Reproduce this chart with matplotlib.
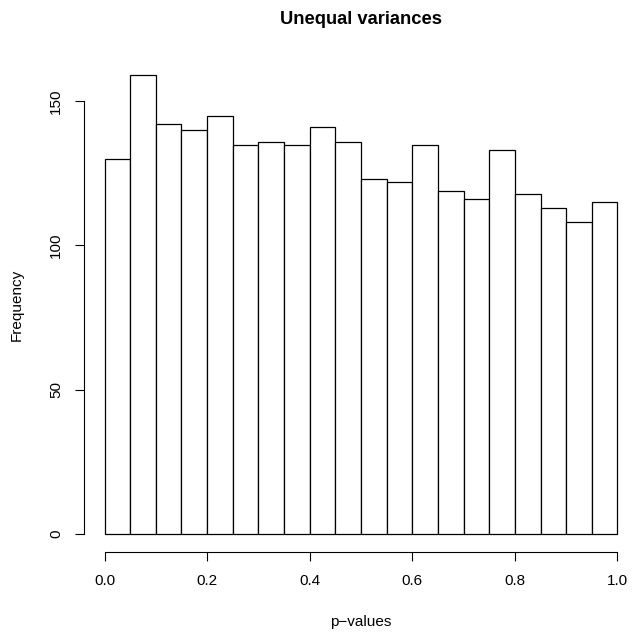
import matplotlib
matplotlib.use("Agg")
import matplotlib.pyplot as plt
import numpy as np

plt.rcParams['font.family'] = ['Liberation Sans', 'DejaVu Sans']

# Data
bin_edges = [0.0, 0.05, 0.10, 0.15, 0.20, 0.25, 0.30, 0.35, 0.40, 0.45, 0.50,
             0.55, 0.60, 0.65, 0.70, 0.75, 0.80, 0.85, 0.90, 0.95, 1.0]
counts = [130, 159, 142, 140, 145, 135, 136, 135, 141, 136,
          123, 122, 135, 119, 116, 133, 118, 113, 108, 115]
x_ticks = [0.0, 0.2, 0.4, 0.6, 0.8, 1.0]
x_tick_labels = ["0.0", "0.2", "0.4", "0.6", "0.8", "1.0"]
y_ticks = [0, 50, 100, 150]
y_tick_labels = ["0", "50", "100", "150"]

W, H = 633, 636
fig = plt.figure(figsize=(W / 100, H / 100), dpi=100)
left, right, top, bottom = 84, 638, 57, 552
ax = fig.add_axes([left / W, (H - bottom) / H, (right - left) / W, (bottom - top) / H])

edges = np.array(bin_edges)
ax.bar(edges[:-1], counts, width=np.diff(edges), align='edge',
       facecolor='white', edgecolor='black', linewidth=0.9)

ymax = max(counts)
ax.set_xlim(-0.04, 1.04)
ax.set_ylim(-0.04 * ymax, 1.04 * ymax)

for s in ['top', 'right']:
    ax.spines[s].set_visible(False)
ax.spines['left'].set_bounds(0, 150)
ax.spines['bottom'].set_bounds(0, 1)
for s in ['left', 'bottom']:
    ax.spines[s].set_linewidth(0.8)

fs = 11
ax.set_xticks(x_ticks)
ax.set_xticklabels(x_tick_labels, fontsize=fs)
ax.set_yticks(y_ticks)
ax.set_yticklabels(y_tick_labels, fontsize=fs, rotation=90, va='center')
ax.tick_params(axis='both', direction='out', length=6.5, width=0.8)
ax.tick_params(axis='x', pad=9.5)
ax.tick_params(axis='y', pad=8.5)

cx = (left + right) / 2 / W
fig.text(cx, 1 - 19 / H, "Unequal variances", ha='center', va='center',
         fontsize=13.2, fontweight='bold')
fig.text(cx, 1 - 622 / H, "p\u2212values", ha='center', va='center', fontsize=fs)
fig.text(17 / W, 1 - 305 / H, "Frequency", ha='center', va='center',
         rotation=90, fontsize=fs)

fig.savefig("out.png", dpi=100)
